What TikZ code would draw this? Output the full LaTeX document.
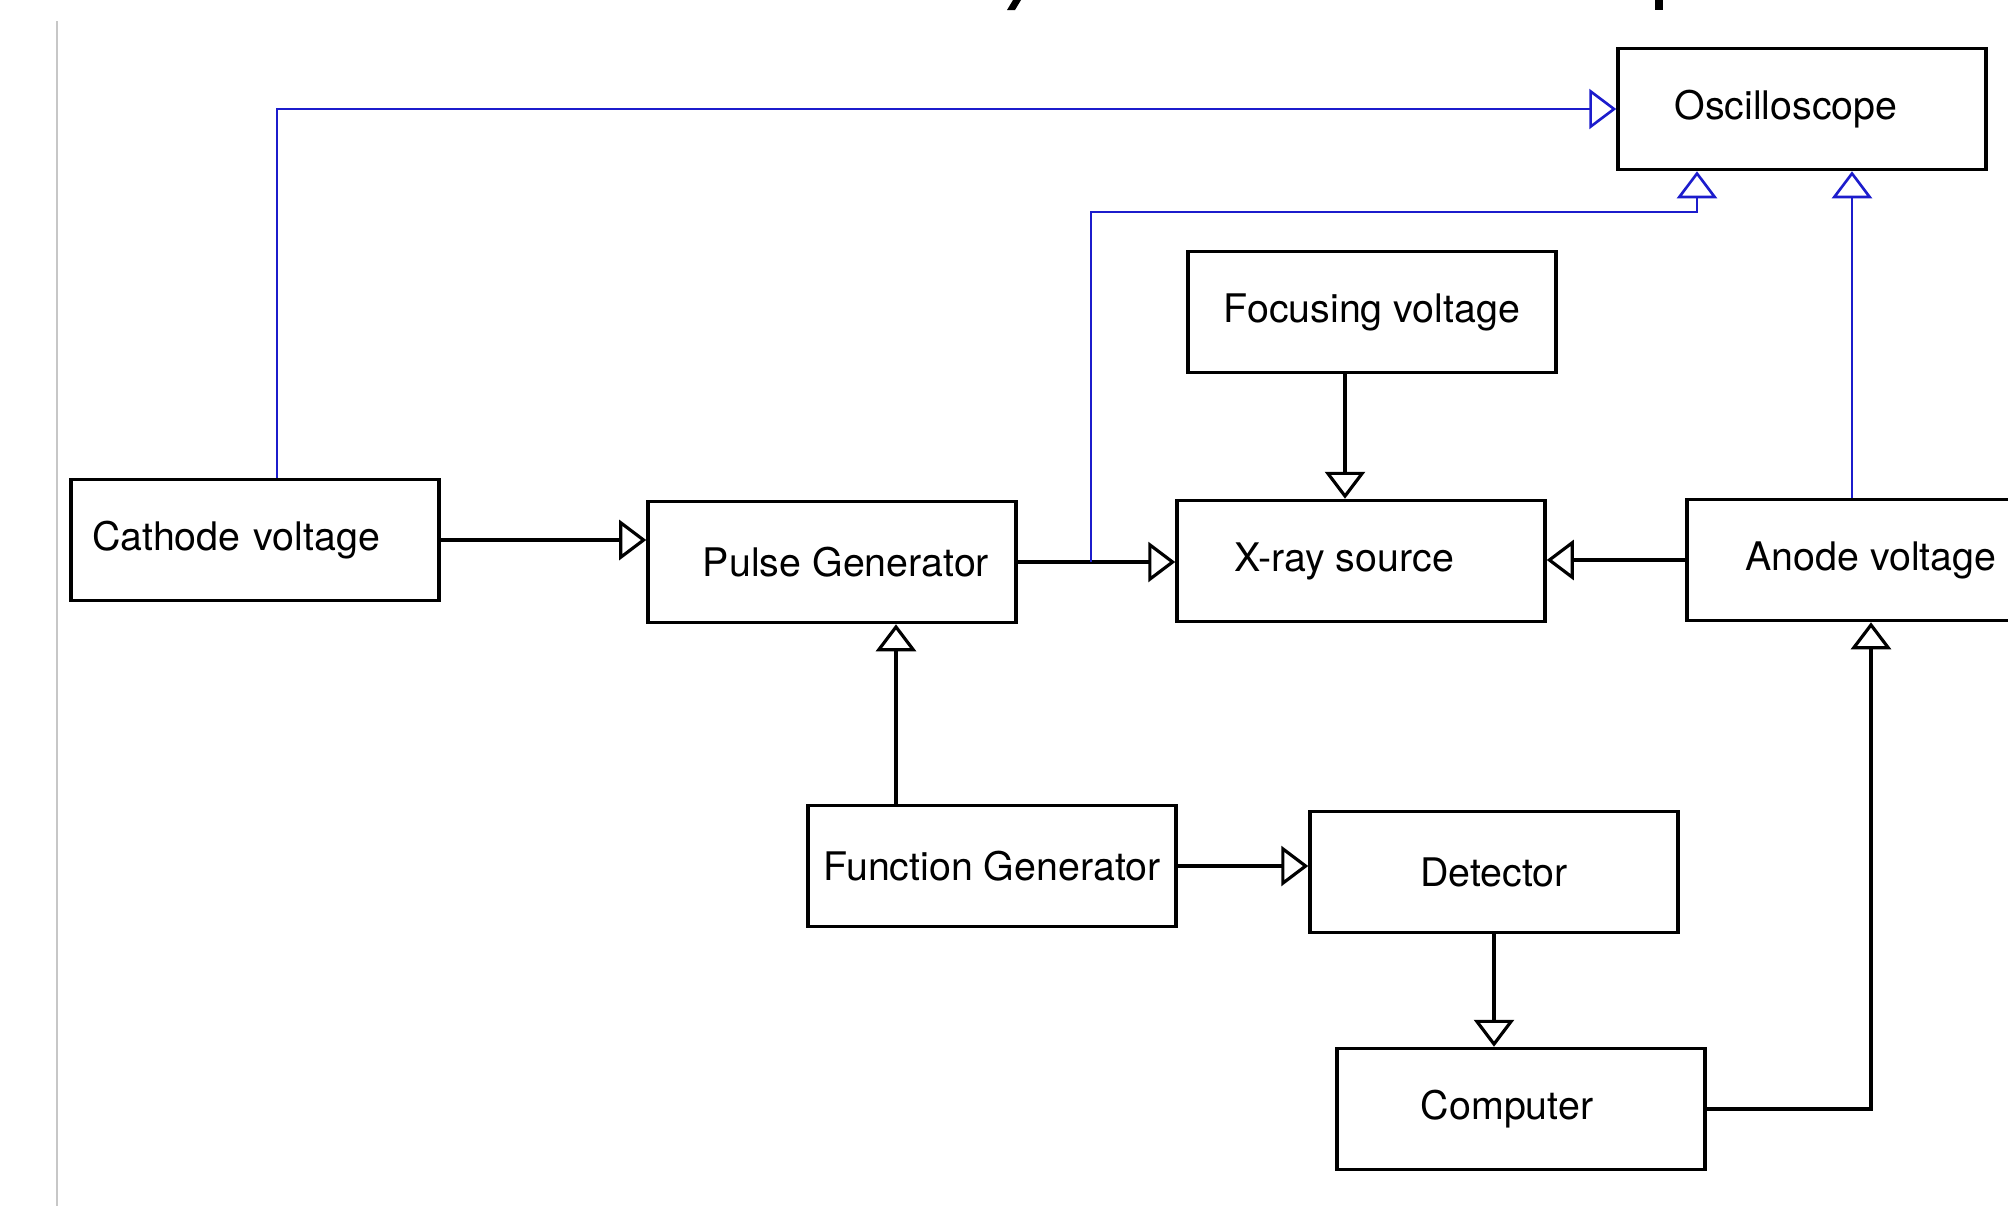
\documentclass[tikz,border=0pt]{standalone}
\usepackage{fontspec}
\setmainfont{TeX Gyre Heros}
\usepackage{tikz}
\usetikzlibrary{arrows.meta}

\definecolor{scopeblue}{RGB}{28,28,204}

\begin{document}
\begin{tikzpicture}[
    block/.style={draw, line width=1pt, minimum width=3.68cm, minimum height=1.21cm, inner sep=0pt},
    link/.style={line width=0.9pt, -{Triangle[open, length=2.7mm, width=4mm]}},
    sig/.style={link, draw=scopeblue, line width=0.75pt},
    font=\fontsize{11.2}{13}\selectfont]
    \useasboundingbox (0,0) rectangle (20.08,-12.06);
    \clip (0,0) rectangle (20.08,-12.06);

    \draw[black!22, line width=0.4pt] (0.57,-0.21) -- (0.57,-12.06);
    \fill (10.07,-0.10) -- (10.13,0) -- (10.21,0) -- (10.15,-0.10) -- cycle;
    \fill (16.55,0) rectangle (16.63,-0.10);

    \node[block, text width=3.26cm, inner xsep=0.2cm, align=left] (cath) at (2.55,-5.40) {Cathode voltage};
    \node[block] (pulse) at (8.32,-5.62) {\hspace*{0.28cm}Pulse Generator};
    \node[block] (xray)  at (13.61,-5.61) {\hspace*{-0.34cm}X-ray source};
    \node[block] (focus) at (13.72,-3.12) {Focusing voltage};
    \node[block] (anode) at (18.71,-5.60) {Anode voltage};
    \node[block] (osc)   at (18.02,-1.09) {\hspace*{-0.32cm}Oscilloscope};
    \node[block] (func)  at (9.92,-8.66) {Function Generator};
    \node[block] (det)   at (14.94,-8.72) {Detector};
    \node[block] (comp)  at (15.21,-11.09) {\hspace*{-0.28cm}Computer};

    \coordinate (tap)  at (10.91,-5.62);
    \coordinate (bend) at (16.97,-2.12);
    \coordinate (atop) at ([xshift=-1.9mm]anode.north);
    \coordinate (fbot) at ([xshift=-2.7mm]focus.south);
    \coordinate (ftop) at ([xshift=-9.6mm]func.north);

    \draw[link] (cath) -- (cath -| pulse.west);
    \draw[link] (pulse) -- (pulse -| xray.west);
    \draw[link] (fbot) -- (fbot |- xray.north);
    \draw[link] (anode) -- (anode -| xray.east);
    \draw[link] (ftop) -- (ftop |- pulse.south);
    \draw[link] (func) -- (func -| det.west);
    \draw[link] (det) -- (det |- comp.north);
    \draw[link] (comp) -| (anode);

    \draw[sig] ([xshift=2.2mm]cath.north) |- (osc.west);
    \draw[sig] (tap) |- (bend) -- (bend |- osc.south);
    \draw[sig] (atop) -- (atop |- osc.south);
\end{tikzpicture}
\end{document}
